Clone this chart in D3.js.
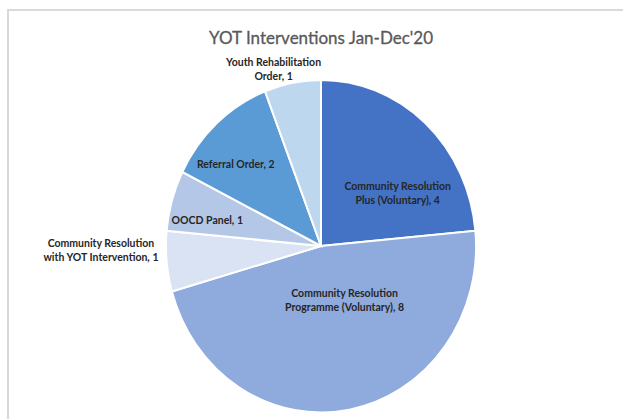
<!DOCTYPE html>
<html>
<head>
<meta charset="utf-8">
<script src="https://cdnjs.cloudflare.com/ajax/libs/d3/7.8.5/d3.min.js"></script>
<style>
	body { margin: 0; background: #fff; }
	svg { display: block; }
</style>
</head>
<body>
<div id="grafica"></div>
<script>
// data
var categorias = [
	'Community Resolution Plus (Voluntary)',
	'Community Resolution Programme (Voluntary)',
	'Community Resolution with YOT Intervention',
	'OOCD Panel',
	'Referral Order',
	'Youth Rehabilitation Order'
];
var valores = [4, 8, 1, 1, 2, 1];
var lineasEtiqueta = [
	['Community Resolution', 'Plus (Voluntary), 4'],
	['Community Resolution', 'Programme (Voluntary), 8'],
	['Community Resolution', 'with YOT Intervention, 1'],
	['OOCD Panel, 1'],
	['Referral Order, 2'],
	['Youth Rehabilitation', 'Order, 1']
];
var colores = ['#4472C4', '#8FAADC', '#DAE3F3', '#B4C7E7', '#5B9BD5', '#BDD7EE'];
var titulo = "YOT Interventions Jan-Dec'20";

// where excel dropped each label: [angle in degrees from 12 o'clock, fraction of radius]
var posEtiqueta = [[57, 0.59], [155, 0.36], [269, 1.42], [282, 0.75], [312, 0.74], [344, 1.11]];

var W = 623, H = 419;
var cx = 321, cy = 246, rx = 155, ry = 166;

var svg = d3.select('#grafica').append('svg')
	.attr('width', W)
	.attr('height', H);

// chart area frame (runs off right and bottom)
svg.append('path')
	.attr('d', 'M8,' + (H + 2) + 'V10H' + (W + 2))
	.attr('fill', 'none')
	.attr('stroke', '#d9d9d9')
	.attr('stroke-width', 2);

svg.append('text')
	.attr('x', cx)
	.attr('y', 44)
	.attr('text-anchor', 'middle')
	.attr('font-family', 'Lato, "Open Sans", sans-serif')
	.attr('font-size', 17)
	.attr('fill', '#595959')
	.attr('stroke', '#595959')
	.attr('stroke-width', 0.3)
	.text(titulo);

var datos = valores.map(function(v, i) { return {nombre: categorias[i], valor: v, i: i}; });

var pie = d3.pie()
	.sort(null)
	.value(function(d) { return d.valor; });

var arc = d3.arc()
	.innerRadius(0)
	.outerRadius(1);

// the source pie is slightly squashed, so draw a unit pie and stretch it
var g = svg.append('g')
	.attr('transform', 'translate(' + cx + ',' + cy + ') scale(' + rx + ',' + ry + ')');

g.selectAll('.rebanada')
	.data(pie(datos))
	.enter().append('path')
	.attr('class', 'rebanada')
	.attr('d', arc)
	.attr('fill', function(d) { return colores[d.data.i]; })
	.attr('stroke', '#fff')
	.attr('stroke-width', 2)
	.attr('vector-effect', 'non-scaling-stroke');

var etiquetas = svg.selectAll('.etiqueta')
	.data(datos)
	.enter().append('text')
	.attr('class', 'etiqueta')
	.attr('text-anchor', 'middle')
	.attr('font-family', 'Lato, "Open Sans", sans-serif')
	.attr('font-weight', 'bold')
	.attr('font-size', 10.5)
	.attr('fill', '#262626')
	.attr('transform', function(d) {
		var p = posEtiqueta[d.i];
		var a = p[0] * Math.PI / 180;
		var x = cx + Math.sin(a) * p[1] * rx;
		var y = cy - Math.cos(a) * p[1] * ry;
		return 'translate(' + x + ',' + y + ')';
	});

etiquetas.selectAll('tspan')
	.data(function(d) {
		var ls = lineasEtiqueta[d.i];
		return ls.map(function(t, k) { return {t: t, k: k, n: ls.length}; });
	})
	.enter().append('tspan')
	.attr('x', 0)
	.attr('y', function(d) { return (d.k - (d.n - 1) / 2) * 14 + 4; })
	.text(function(d) { return d.t; });
</script>
</body>
</html>
